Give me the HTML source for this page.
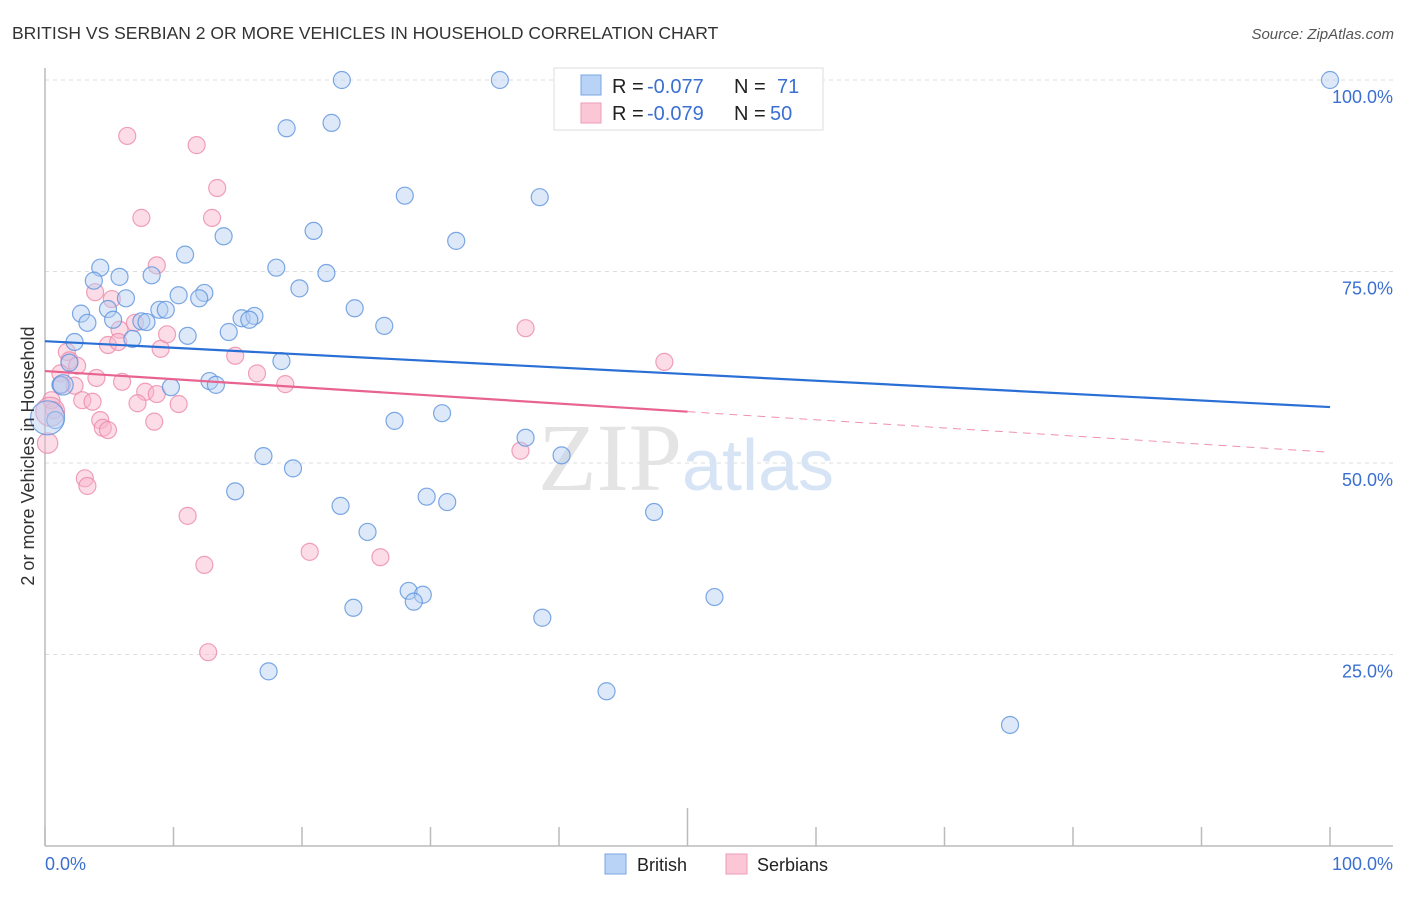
<!DOCTYPE html>
<html><head><meta charset="utf-8"><style>
body{margin:0;background:#fff;font-family:"Liberation Sans",sans-serif}
svg text{font-family:"Liberation Sans",sans-serif}
</style></head><body>
<svg id="chart" width="1406" height="892" xmlns="http://www.w3.org/2000/svg">
<text x="12" y="39" font-size="17.5" fill="#333">BRITISH VS SERBIAN 2 OR MORE VEHICLES IN HOUSEHOLD CORRELATION CHART</text>
<text x="1394" y="39" font-size="15" fill="#555" text-anchor="end" font-style="italic">Source: ZipAtlas.com</text>
<g id="grid"></g>
<text x="686" y="490" font-size="96" fill="#e4e4e4" text-anchor="middle" style="font-family:'Liberation Serif',serif">ZIP<tspan fill="#d6e4f5" font-size="72" style="font-family:'Liberation Sans',sans-serif">atlas</tspan></text>
<g id="marks"></g>
<text transform="translate(34,456) rotate(-90)" font-size="18" fill="#333" text-anchor="middle">2 or more Vehicles in Household</text>
<text x="45" y="870" font-size="18" fill="#3b6fd1">0.0%</text>
<text x="1393" y="870" font-size="18" fill="#3b6fd1" text-anchor="end">100.0%</text>
<g>
<rect x="554" y="68" width="269" height="62" fill="#fff" stroke="#ddd"/>
<rect x="581" y="75" width="20" height="20" fill="#b8d3f5" stroke="#7aa6e0"/>
<rect x="581" y="103" width="20" height="20" fill="#fbc7d6" stroke="#ee9cb6"/>
<text x="612" y="93" font-size="20" fill="#222">R =</text>
<text x="647" y="93" font-size="20" fill="#3b6fd1">-0.077</text>
<text x="734" y="93" font-size="20" fill="#222">N =</text>
<text x="777" y="93" font-size="20" fill="#3b6fd1">71</text>
<text x="612" y="120" font-size="20" fill="#222">R =</text>
<text x="647" y="120" font-size="20" fill="#3b6fd1">-0.079</text>
<text x="734" y="120" font-size="20" fill="#222">N =</text>
<text x="770" y="120" font-size="20" fill="#3b6fd1">50</text>
</g>
<g>
<rect x="605" y="854" width="21" height="20" fill="#b8d3f5" stroke="#7aa6e0"/>
<text x="637" y="871" font-size="18" fill="#222">British</text>
<rect x="726" y="854" width="21" height="20" fill="#fbc7d6" stroke="#ee9cb6"/>
<text x="757" y="871" font-size="18" fill="#222">Serbians</text>
</g>
</svg>
<script>
const britishX=[23.1,35.4,100,18.8,22.3,28.0,38.5,13.9,20.9,32.0,10.9,4.3,5.8,8.3,18.0,21.9,3.8,19.8,10.4,12.4,6.3,12.0,2.8,4.9,8.9,9.4,24.1,3.3,5.3,7.5,7.9,15.3,16.3,15.9,26.4,14.3,11.1,2.3,6.8,18.4,1.9,12.8,13.3,9.8,1.2,0.8,27.2,30.9,37.4,40.2,17.0,19.3,14.8,29.7,31.3,23.0,47.4,25.1,28.3,29.4,28.7,24.0,52.1,38.7,17.4,43.7,75.1,1.4,0.2];
const britishY=[100,100,100,93.7,94.4,84.9,84.7,79.6,80.3,79.0,77.2,75.5,74.3,74.5,75.5,74.8,73.8,72.8,71.9,72.2,71.5,71.5,69.5,70.1,70.0,70.0,70.2,68.3,68.7,68.5,68.4,68.9,69.2,68.7,67.9,67.1,66.6,65.8,66.2,63.3,63.1,60.7,60.2,59.9,60.2,55.6,55.5,56.5,53.3,51.0,50.9,49.3,46.3,45.6,44.9,44.4,43.6,41.0,33.3,32.8,31.9,31.1,32.5,29.8,22.8,20.2,15.8,60.2,55.9];
const britishW=[1,1,1,1,1,1,1,1,1,1,1,1,1,1,1,1,1,1,1,1,1,1,1,1,1,1,1,1,1,1,1,1,1,1,1,1,1,1,1,1,1,1,1,1,1,1,1,1,1,1,1,1,1,1,1,1,1,1,1,1,1,1,1,1,1,1,1,1.2,2];
const serbX=[6.4,11.8,13.4,7.5,13.0,8.7,3.9,5.2,5.8,7.0,4.9,5.7,9.0,9.5,1.7,1.9,2.5,14.8,1.2,16.5,4.0,6.0,18.7,2.3,1.3,7.8,8.7,0.5,2.9,3.7,7.2,10.4,0.7,4.3,8.5,4.5,4.9,37.4,48.2,37.0,3.1,3.3,11.1,20.6,26.1,12.4,12.7,0.2,0.4];
const serbY=[92.7,91.5,85.9,82.0,82.0,75.8,72.3,71.4,67.4,68.3,65.4,65.8,64.9,66.8,64.5,63.4,62.7,64.0,61.7,61.7,61.1,60.6,60.3,60.1,60.2,59.3,59.0,58.2,58.2,58.0,57.8,57.7,56.9,55.6,55.4,54.6,54.3,67.6,63.2,51.6,48.0,47.0,43.1,38.4,37.7,36.7,25.3,52.6,56.7];
const serbW=[1,1,1,1,1,1,1,1,1,1,1,1,1,1,1,1,1,1,1,1,1,1,1,1,1,1,1,1,1,1,1,1,1,1,1,1,1,1,1,1,1,1,1,1,1,1,1,1.2,1.7];
const trendBritish=[65.9,57.3];
const trendSerb=[62.0,51.4];
const serbSolidEnd=50;
const yTicks=[25,50,75,100];
const yTickLabels=["25.0%","50.0%","75.0%","100.0%"];
const xTicks=[0,10,20,30,40,50,60,70,80,90,100];

const NS="http://www.w3.org/2000/svg";
const sx=v=>45+v*12.85, sy=v=>846-v*7.66;
function mk(tag,attrs,parent){const e=document.createElementNS(NS,tag);for(const k in attrs)e.setAttribute(k,attrs[k]);parent.appendChild(e);return e;}
const grid=document.getElementById('grid'), marks=document.getElementById('marks'), svg=document.getElementById('chart');
yTicks.forEach((t,i)=>{
  const l=mk('line',{x1:45,x2:1393,y1:sy(t),y2:sy(t),stroke:'#ddd','stroke-dasharray':'4,4'},grid);
  
  
  const tx=mk('text',{x:1393,y:sy(t)+23,'font-size':18,fill:'#3b6fd1','text-anchor':'end'},svg);
  tx.textContent=yTickLabels[i];
  
  
});
const ax=mk('line',{x1:45,x2:1393,y1:846,y2:846,stroke:'#bbb','stroke-width':1.5},grid);


const ay=mk('line',{x1:45,x2:45,y1:68,y2:846,stroke:'#bbb','stroke-width':1.5},grid);


xTicks.forEach(t=>{
  const tk=mk('line',{x1:sx(t),x2:sx(t),y1:t===50?808:827,y2:846,stroke:'#bbb','stroke-width':1.5},grid);
  
  
});
function dots(X,Y,W,fill,stroke,name){
  X.forEach((x,i)=>{
    const c=mk('circle',{cx:sx(x),cy:sy(Y[i]),r:8.5*W[i],fill:fill,'fill-opacity':0.45,stroke:stroke,'stroke-width':1.2,'stroke-opacity':0.8},marks);
    
    
  });
}
dots(serbX,serbY,serbW,'#f8b4c9','#ec8aa9','serbian-point');
dots(britishX,britishY,britishW,'#b4cff2','#5d92dd','british-point');
const tb=mk('line',{x1:sx(0),y1:sy(trendBritish[0]),x2:sx(100),y2:sy(trendBritish[1]),stroke:'#2a6fd6','stroke-width':2.2},marks);


const sm=trendSerb[0]+(trendSerb[1]-trendSerb[0])*serbSolidEnd/100;
const ts=mk('line',{x1:sx(0),y1:sy(trendSerb[0]),x2:sx(serbSolidEnd),y2:sy(sm),stroke:'#e8638f','stroke-width':2.2},marks);


const td=mk('line',{x1:sx(serbSolidEnd),y1:sy(sm),x2:sx(100),y2:sy(trendSerb[1]),stroke:'#e8638f','stroke-width':1,'stroke-dasharray':'8,6','stroke-opacity':0.7},marks);


</script>
</body></html>
